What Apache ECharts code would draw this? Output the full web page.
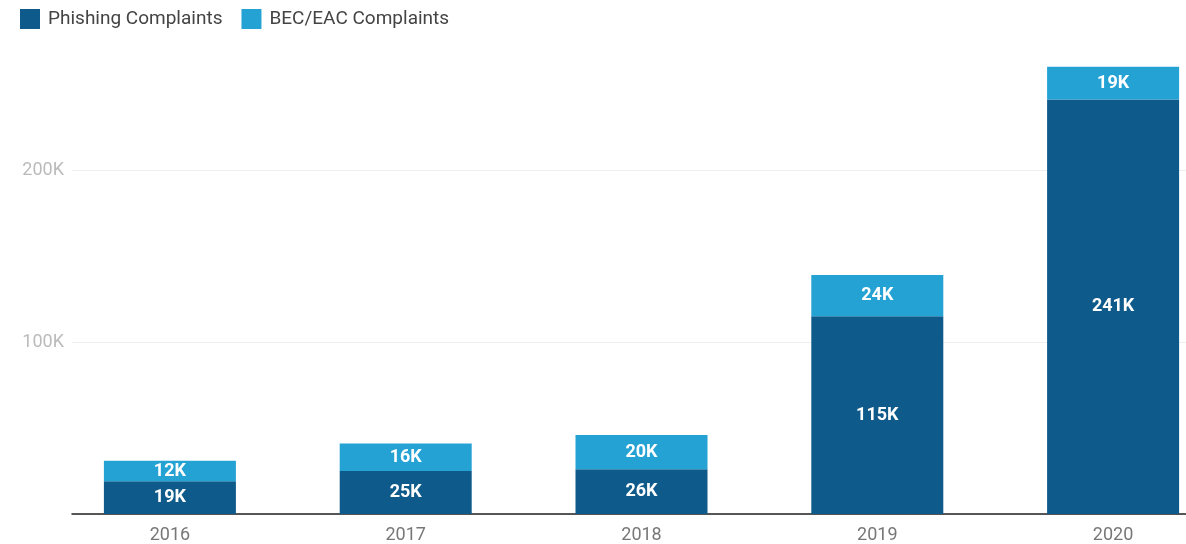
<!DOCTYPE html>
<html><head><meta charset="utf-8">
<script src="https://cdn.jsdelivr.net/npm/echarts@6/dist/echarts.min.js"></script>
<style>html,body{margin:0;padding:0;background:#fff}#c{width:1186px;height:544px}</style>
</head><body><div id="c"></div>
<script>
const categories = ['2016', '2017', '2018', '2019', '2020'];
const phishing = [19000, 25000, 26000, 115000, 241000];
const becEac = [12000, 16000, 20000, 24000, 19000];
const seriesNames = ['Phishing Complaints', 'BEC/EAC Complaints'];

const fmtK = v => Math.round(v / 1000) + 'K';
const chart = echarts.init(document.getElementById('c'));
const font = 'Roboto, "Noto Sans", sans-serif';
const lbl = {show: true, position: 'inside', color: '#fff', fontWeight: 'bold', fontSize: 18, fontFamily: font,
  formatter: p => fmtK(p.value)};
chart.setOption({
  animation: false,
  textStyle: {fontFamily: font},
  legend: {left: 20, top: 9, padding: 0, itemWidth: 20, itemHeight: 20, itemGap: 19, icon: 'rect',
    textStyle: {fontSize: 19, color: '#444', fontFamily: font, padding: [0, 0, 0, 3]},
    data: seriesNames},
  grid: [
    {left: 72, right: 0, top: -2, height: 516, outerBoundsMode: 'none', containLabel: false},
    {left: 52, width: 1179, top: -2, height: 516, outerBoundsMode: 'none', containLabel: false}
  ],
  xAxis: [
    {gridIndex: 0, type: 'category', data: categories, axisLine: {lineStyle: {color: '#222', width: 1.5}},
      axisTick: {show: false}, axisLabel: {show: false}},
    {gridIndex: 1, type: 'category', data: categories, axisLine: {show: false}, axisTick: {show: false},
      axisLabel: {color: '#777', fontSize: 18, margin: 12, fontFamily: font}}
  ],
  yAxis: [
    {gridIndex: 0, type: 'value', min: 0, max: 300000, interval: 100000,
      axisLabel: {showMinLabel: false, showMaxLabel: false, color: '#bbb', fontSize: 18, margin: 8, fontFamily: font,
        formatter: v => (v === 0 || v === 300000) ? '' : fmtK(v)},
      splitLine: {lineStyle: {color: '#eee', width: 1}}, axisLine: {show: false}, axisTick: {show: false}},
    {gridIndex: 1, type: 'value', min: 0, max: 300000, interval: 100000, show: false, splitLine: {show: false}}
  ],
  series: [
    {name: seriesNames[0], type: 'bar', stack: 's', xAxisIndex: 1, yAxisIndex: 1, data: phishing,
      barWidth: 132, itemStyle: {color: '#0e5a8a'}, label: lbl},
    {name: seriesNames[1], type: 'bar', stack: 's', xAxisIndex: 1, yAxisIndex: 1, data: becEac,
      barWidth: 132, itemStyle: {color: '#24a2d4'}, label: lbl}
  ]
});
</script></body></html>
